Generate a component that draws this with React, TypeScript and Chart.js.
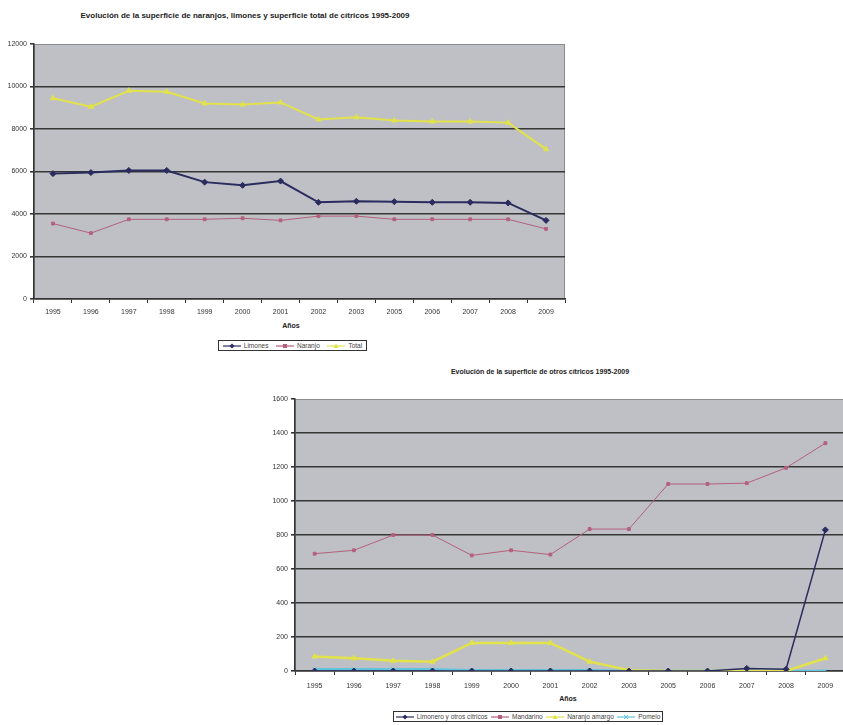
import React, { useEffect, useRef } from "react";
import { Chart, registerables } from "chart.js";
Chart.register(...registerables);

// ---------- data ----------
const years = ["1995", "1996", "1997", "1998", "1999", "2000", "2001", "2002", "2003", "2005", "2006", "2007", "2008", "2009"];

// Chart 1: naranjos, limones y total
const limones = [5900, 5950, 6050, 6050, 5500, 5350, 5550, 4550, 4600, 4580, 4550, 4550, 4520, 3700];
const naranjo = [3550, 3100, 3750, 3750, 3750, 3800, 3700, 3900, 3900, 3750, 3750, 3750, 3750, 3300];
const total = [9450, 9050, 9800, 9750, 9200, 9150, 9250, 8450, 8550, 8400, 8350, 8350, 8300, 7050];

// Chart 2: otros cítricos
const limoneroOtros = [0, 0, 0, 0, 0, 0, 0, 0, 0, 0, 0, 15, 10, 830];
const mandarino = [690, 710, 800, 800, 680, 710, 685, 835, 835, 1100, 1100, 1105, 1195, 1340];
const naranjoAmargo = [85, 75, 60, 55, 165, 165, 165, 55, 5, 0, 0, 0, 0, 75];
const pomelo = [10, 10, 10, 10, 5, 5, 5, 5, 0, 0, 0, 0, 0, 0];

const title1 = "Evolución de la superficie de naranjos, limones y superficie total de cítricos 1995-2009";
const title2 = "Evolución de la superficie de otros cítricos 1995-2009";
const axisTitle = "Años";

const NAVY = "#2a2b5e";
const PINK = "#b4607e";
const YELLOW = "#e2e24a";
const CYAN = "#62c4dc";
const FONT = "'Liberation Sans', Arial, sans-serif";

const plotBg = {
  id: "plotBg",
  beforeDraw(chart: any) {
    const { ctx, chartArea: a } = chart;
    ctx.save();
    ctx.fillStyle = "#bfc0c5";
    ctx.fillRect(a.left, a.top, a.right - a.left, a.bottom - a.top);
    ctx.strokeStyle = "#8c8c8c";
    ctx.lineWidth = 1;
    ctx.strokeRect(a.left + 0.5, a.top + 0.5, a.right - a.left - 1, a.bottom - a.top - 1);
    ctx.restore();
  },
};

type DS = { label: string; data: number[]; color: string; style: string; width: number; radius: number };

function LineChart(props: {
  left: number; top: number; width: number; height: number;
  datasets: DS[]; yMax: number; yStep: number; yAxisWidth: number;
  padTop: number; padRight: number; xAxisHeight: number; xPad: number;
}) {
  const ref = useRef<HTMLCanvasElement>(null);
  useEffect(() => {
    if (!ref.current) return;
    const yMax = props.yMax;
    const chart = new Chart(ref.current, {
      type: "line",
      data: {
        labels: years,
        datasets: props.datasets.map((d) => ({
          label: d.label,
          data: d.data,
          borderColor: d.color,
          backgroundColor: d.color,
          borderWidth: d.width,
          pointStyle: d.style as any,
          pointRadius: d.radius,
          pointBorderColor: d.color,
          pointBackgroundColor: d.color,
          pointBorderWidth: 1,
          tension: 0,
          fill: false,
        })),
      },
      options: {
        animation: false,
        responsive: false,
        maintainAspectRatio: false,
        layout: { padding: { left: 0, right: props.padRight, top: props.padTop, bottom: 0 } },
        plugins: { legend: { display: false }, title: { display: false }, tooltip: { enabled: false } },
        scales: {
          x: {
            offset: true,
            grid: { offset: true, drawOnChartArea: false, drawTicks: true, tickLength: 4, color: "#333", lineWidth: 1 },
            border: { color: "#333", width: 1.5 },
            ticks: { font: { family: FONT, size: 7 }, color: "#333", padding: props.xPad, maxRotation: 0, autoSkip: false },
            afterFit: (s: any) => { s.height = props.xAxisHeight; },
          },
          y: {
            min: 0,
            max: yMax,
            ticks: {
              stepSize: props.yStep,
              font: { family: FONT, size: 7 },
              color: "#333",
              padding: 3,
              callback: (v: any) => String(v),
            },
            grid: {
              color: (c: any) => (c.tick && c.tick.value === yMax ? "rgba(0,0,0,0)" : "#363636"),
              tickColor: "#363636",
              lineWidth: 1.6,
              tickLength: 4,
              drawTicks: true,
            },
            border: { color: "#333", width: 1.5 },
            afterFit: (s: any) => { s.width = props.yAxisWidth; },
          },
        },
      },
      plugins: [plotBg],
    });
    return () => chart.destroy();
  }, []);
  return (
    <canvas
      ref={ref}
      width={props.width}
      height={props.height}
      style={{ position: "absolute", left: props.left, top: props.top, width: props.width, height: props.height }}
    />
  );
}

function Marker({ style, color }: { style: string; color: string }) {
  const cx = 9, cy = 4;
  let m: any = null;
  if (style === "rectRot") m = <polygon points={`${cx},${cy - 2.5} ${cx + 2.5},${cy} ${cx},${cy + 2.5} ${cx - 2.5},${cy}`} fill={color} />;
  else if (style === "rect") m = <rect x={cx - 2} y={cy - 2} width={4} height={4} fill={color} />;
  else if (style === "triangle") m = <polygon points={`${cx},${cy - 2.5} ${cx + 2.5},${cy + 2} ${cx - 2.5},${cy + 2}`} fill={color} />;
  else m = <g stroke={color} strokeWidth={1}><line x1={cx - 2} y1={cy - 2} x2={cx + 2} y2={cy + 2} /><line x1={cx - 2} y1={cy + 2} x2={cx + 2} y2={cy - 2} /></g>;
  return (
    <svg width={18} height={8} style={{ display: "inline-block", verticalAlign: "middle", marginRight: 3 }}>
      <line x1={0} y1={cy} x2={18} y2={cy} stroke={color} strokeWidth={1.2} />
      {m}
    </svg>
  );
}

function Legend({ left, top, width, items }: { left: number; top: number; width: number; items: DS[] }) {
  return (
    <div
      style={{
        position: "absolute", left, top, width, height: 11, border: "1px solid #333", background: "#fff",
        display: "flex", alignItems: "center", justifyContent: "space-around", boxSizing: "border-box",
        fontFamily: FONT, fontSize: 6.5, color: "#444", whiteSpace: "nowrap",
      }}
    >
      {items.map((d) => (
        <span key={d.label} style={{ display: "inline-flex", alignItems: "center" }}>
          <Marker style={d.style} color={d.color} />
          {d.label}
        </span>
      ))}
    </div>
  );
}

function Text({ x, y, text, bold, size }: { x: number; y: number; text: string; bold?: boolean; size: number }) {
  return (
    <div
      style={{
        position: "absolute", left: x, top: y, transform: "translate(-50%, -50%)", whiteSpace: "nowrap",
        fontFamily: FONT, fontSize: size, fontWeight: bold ? "bold" : "normal", color: "#222",
      }}
    >
      {text}
    </div>
  );
}

export default function App() {
  const ds1: DS[] = [
    { label: "Limones", data: limones, color: NAVY, style: "rectRot", width: 2, radius: 3 },
    { label: "Naranjo", data: naranjo, color: PINK, style: "rect", width: 1, radius: 2 },
    { label: "Total", data: total, color: YELLOW, style: "triangle", width: 2, radius: 3 },
  ];
  const ds2: DS[] = [
    { label: "Limonero y otros cítricos", data: limoneroOtros, color: NAVY, style: "rectRot", width: 1.5, radius: 3 },
    { label: "Mandarino", data: mandarino, color: PINK, style: "rect", width: 1, radius: 2 },
    { label: "Naranjo amargo", data: naranjoAmargo, color: YELLOW, style: "triangle", width: 2.5, radius: 3 },
    { label: "Pomelo", data: pomelo, color: CYAN, style: "crossRot", width: 2.5, radius: 3 },
  ];
  return (
    <div style={{ position: "fixed", left: 0, top: 0, width: 843, height: 725, overflow: "hidden", background: "#fff" }}>
      <Text x={245} y={15} text={title1} bold size={8} />
      <LineChart left={0} top={0} width={600} height={319} datasets={ds1} yMax={12000} yStep={2000}
        yAxisWidth={34} padTop={44} padRight={35} xAxisHeight={20} xPad={5} />
      <Text x={291} y={325} text={axisTitle} bold size={7} />
      <Legend left={218} top={340} width={149} items={ds1} />

      <Text x={540} y={371} text={title2} bold size={7} />
      <LineChart left={240} top={360} width={610} height={331} datasets={ds2} yMax={1600} yStep={200}
        yAxisWidth={55} padTop={39} padRight={3} xAxisHeight={20} xPad={7} />
      <Text x={568} y={698} text={axisTitle} bold size={7} />
      <Legend left={393} top={711} width={270} items={ds2} />
    </div>
  );
}
